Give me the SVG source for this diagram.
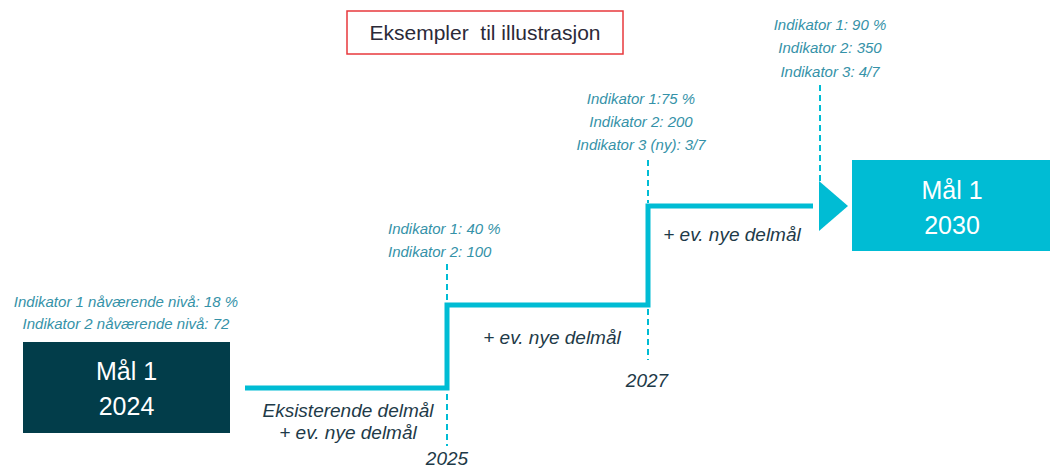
<svg xmlns="http://www.w3.org/2000/svg" width="1050" height="470" viewBox="0 0 1050 470">
<style>
.ind{font-family:"Liberation Sans",Arial,sans-serif;font-size:15px;font-style:italic;fill:#3592A8}
.lbl{font-family:"Liberation Sans",Arial,sans-serif;font-size:19px;font-style:italic;fill:#1E3A48}
.box{font-family:"Liberation Sans",Arial,sans-serif;font-size:25px;fill:#FFFFFF}
.dash{stroke:#00BCD4;stroke-width:2;stroke-dasharray:6 4;fill:none}
.step{stroke:#00BCD4;stroke-width:5;fill:none}
</style>
<rect width="1050" height="470" fill="#FFFFFF"/>
<g id="title">
<rect x="347" y="11" width="276" height="43" fill="#FFFFFF" stroke="#E8383D" stroke-width="1.5"/>
<text x="485" y="40" text-anchor="middle" font-family="Liberation Sans, Arial, sans-serif" font-size="21" fill="#2B2A38" xml:space="preserve">Eksempler  til illustrasjon</text>
</g>
<g id="connectors">
<polyline class="step" points="245,388 447,388 447,305 648,305 648,206 813,206"/>
<polygon points="819,181 848,206 819,231" fill="#00BCD4"/>
<line class="dash" x1="447" y1="264" x2="447" y2="302"/>
<line class="dash" x1="447" y1="394" x2="447" y2="446"/>
<line class="dash" x1="648" y1="160" x2="648" y2="203"/>
<line class="dash" x1="648" y1="309" x2="648" y2="360"/>
<line class="dash" x1="820" y1="85" x2="820" y2="181"/>
</g>
<g id="start">
<rect x="23" y="342" width="207" height="91" fill="#023D4A"/>
<text class="box" x="126.5" y="380" text-anchor="middle">Mål 1</text>
<text class="box" x="126.5" y="415" text-anchor="middle">2024</text>
</g>
<g id="end">
<rect x="852" y="160" width="198" height="91" fill="#00BCD4"/>
<text class="box" x="952" y="199" text-anchor="middle">Mål 1</text>
<text class="box" x="952" y="234" text-anchor="middle">2030</text>
</g>
<g id="ind2024">
<text class="ind" x="126" y="307" text-anchor="middle">Indikator 1 nåværende nivå: 18 %</text>
<text class="ind" x="126" y="329" text-anchor="middle">Indikator 2 nåværende nivå: 72</text>
</g>
<g id="ind2025">
<text class="ind" x="388" y="234">Indikator 1: 40 %</text>
<text class="ind" x="388" y="257">Indikator 2: 100</text>
</g>
<g id="ind2027">
<text class="ind" x="641" y="104" text-anchor="middle">Indikator 1:75 %</text>
<text class="ind" x="641" y="127" text-anchor="middle">Indikator 2: 200</text>
<text class="ind" x="641" y="150" text-anchor="middle">Indikator 3 (ny): 3/7</text>
</g>
<g id="ind2030">
<text class="ind" x="830" y="30" text-anchor="middle">Indikator 1: 90 %</text>
<text class="ind" x="830" y="53" text-anchor="middle">Indikator 2: 350</text>
<text class="ind" x="830" y="77" text-anchor="middle">Indikator 3: 4/7</text>
</g>
<g id="labels">
<text class="lbl" x="348" y="417" text-anchor="middle">Eksisterende delmål</text>
<text class="lbl" x="348" y="439" text-anchor="middle">+ ev. nye delmål</text>
<text class="lbl" x="552" y="344" text-anchor="middle">+ ev. nye delmål</text>
<text class="lbl" x="732" y="241" text-anchor="middle">+ ev. nye delmål</text>
<text class="lbl" x="447" y="465" text-anchor="middle">2025</text>
<text class="lbl" x="647" y="387" text-anchor="middle">2027</text>
</g>
</svg>
